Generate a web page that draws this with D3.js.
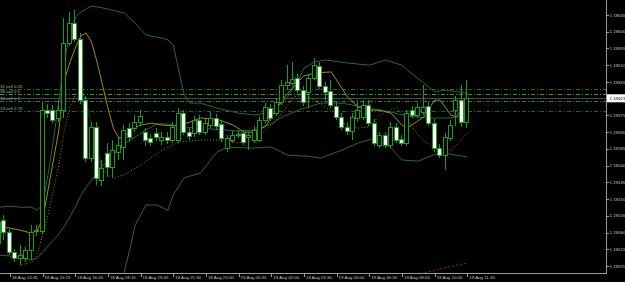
<!DOCTYPE html>
<html>
<head>
<meta charset="utf-8">
<script src="https://cdn.jsdelivr.net/npm/d3@7/dist/d3.min.js"></script>
<style>
  body { margin: 0; background: #000; }
  svg { display: block; }
</style>
</head>
<body>
<svg width="625" height="282"></svg>
<script>
// EURUSD M15 bars, 18-19 Aug
var opens = [
  1.19032, 1.19093, 1.19061, 1.19007, 1.18991, 1.18991, 1.19013, 1.19066, 1.19064, 1.19389,
  1.19389, 1.19368, 1.19389, 1.19570, 1.19623, 1.19580, 1.19416, 1.19260, 1.19344, 1.19201,
  1.19274, 1.19236, 1.19276, 1.19290, 1.19341, 1.19341, 1.19357, 1.19330, 1.19314, 1.19327,
  1.19309, 1.19317, 1.19309, 1.19309, 1.19381, 1.19330, 1.19327, 1.19363, 1.19330, 1.19349,
  1.19368, 1.19352, 1.19287, 1.19309, 1.19322, 1.19327, 1.19317, 1.19309, 1.19309, 1.19363,
  1.19395, 1.19381, 1.19411, 1.19457, 1.19462, 1.19476, 1.19443, 1.19438, 1.19476, 1.19508,
  1.19454, 1.19440, 1.19400, 1.19371, 1.19344, 1.19333, 1.19368, 1.19371, 1.19403, 1.19354,
  1.19295, 1.19322, 1.19295, 1.19344, 1.19311, 1.19301, 1.19389, 1.19376, 1.19384, 1.19400,
  1.19354, 1.19287, 1.19268, 1.19314, 1.19389, 1.19416, 1.19357
];
var highs = [
  1.19099, 1.19107, 1.19069, 1.19015, 1.19026, 1.19021, 1.19080, 1.19080, 1.19411, 1.19406,
  1.19403, 1.19416, 1.19637, 1.19653, 1.19658, 1.19597, 1.19427, 1.19357, 1.19357, 1.19255,
  1.19301, 1.19309, 1.19314, 1.19349, 1.19354, 1.19376, 1.19389, 1.19341, 1.19325, 1.19341,
  1.19330, 1.19330, 1.19357, 1.19395, 1.19389, 1.19341, 1.19373, 1.19376, 1.19365, 1.19384,
  1.19379, 1.19363, 1.19322, 1.19333, 1.19336, 1.19336, 1.19330, 1.19346, 1.19371, 1.19408,
  1.19406, 1.19422, 1.19470, 1.19510, 1.19519, 1.19486, 1.19454, 1.19486, 1.19529, 1.19519,
  1.19465, 1.19470, 1.19411, 1.19381, 1.19357, 1.19381, 1.19416, 1.19416, 1.19416, 1.19365,
  1.19330, 1.19330, 1.19357, 1.19354, 1.19322, 1.19389, 1.19400, 1.19408, 1.19457, 1.19411,
  1.19365, 1.19298, 1.19327, 1.19363, 1.19427, 1.19457, 1.19470
];
var lows = [
  1.19024, 1.19040, 1.18999, 1.18980, 1.18972, 1.18980, 1.18986, 1.19050, 1.19056, 1.19368,
  1.19354, 1.19357, 1.19368, 1.19562, 1.19572, 1.19406, 1.19250, 1.19250, 1.19188, 1.19185,
  1.19209, 1.19207, 1.19255, 1.19255, 1.19303, 1.19330, 1.19346, 1.19292, 1.19292, 1.19306,
  1.19295, 1.19298, 1.19301, 1.19301, 1.19322, 1.19309, 1.19317, 1.19322, 1.19322, 1.19341,
  1.19336, 1.19303, 1.19276, 1.19301, 1.19314, 1.19295, 1.19282, 1.19301, 1.19303, 1.19354,
  1.19360, 1.19373, 1.19403, 1.19443, 1.19454, 1.19435, 1.19400, 1.19395, 1.19470, 1.19446,
  1.19416, 1.19395, 1.19363, 1.19336, 1.19322, 1.19309, 1.19357, 1.19363, 1.19346, 1.19292,
  1.19287, 1.19287, 1.19287, 1.19301, 1.19292, 1.19292, 1.19368, 1.19368, 1.19376, 1.19346,
  1.19276, 1.19260, 1.19228, 1.19306, 1.19346, 1.19344, 1.19341
];
var closes = [
  1.19088, 1.19061, 1.19007, 1.18991, 1.18999, 1.19013, 1.19061, 1.19064, 1.19389, 1.19381,
  1.19363, 1.19389, 1.19570, 1.19623, 1.19580, 1.19416, 1.19260, 1.19344, 1.19207, 1.19233,
  1.19236, 1.19282, 1.19295, 1.19336, 1.19317, 1.19357, 1.19373, 1.19309, 1.19303, 1.19317,
  1.19317, 1.19309, 1.19344, 1.19381, 1.19330, 1.19319, 1.19363, 1.19330, 1.19354, 1.19368,
  1.19346, 1.19314, 1.19314, 1.19322, 1.19325, 1.19303, 1.19322, 1.19336, 1.19363, 1.19397,
  1.19368, 1.19411, 1.19457, 1.19465, 1.19473, 1.19443, 1.19411, 1.19476, 1.19510, 1.19454,
  1.19438, 1.19403, 1.19371, 1.19344, 1.19333, 1.19371, 1.19389, 1.19403, 1.19354, 1.19301,
  1.19322, 1.19295, 1.19344, 1.19309, 1.19301, 1.19381, 1.19376, 1.19397, 1.19397, 1.19354,
  1.19287, 1.19268, 1.19317, 1.19349, 1.19416, 1.19357, 1.19421
];

// indicator lines, [bar, price]
var maFast = [[0,1.19075],[2,1.19072],[4,1.19066],[6,1.19058],[7,1.19066],[8,1.19093],[9,1.19174],[10,1.19255],
  [11,1.19336],[12,1.19470],[13,1.19516],[14,1.19556],[15,1.19588],[16,1.19597],[17,1.19572],[18,1.19519],
  [19,1.19457],[20,1.19395],[21,1.19341],[22,1.19314],[23,1.19317],[24,1.19336],[26,1.19349],[28,1.19354],
  [30,1.19349],[33,1.19346],[37,1.19368],[40,1.19365],[43,1.19349],[45,1.19330],[47,1.19330],[49,1.19346],
  [50,1.19371],[52,1.19416],[54,1.19451],[56,1.19481],[58,1.19489],[61,1.19492],[62,1.19470],[64,1.19424],
  [66,1.19397],[68,1.19389],[70,1.19389],[72,1.19381],[74,1.19349],[75,1.19341],[78,1.19371],[80,1.19416],
  [81,1.19416],[83,1.19376],[84,1.19371],[86,1.19416]];
var maSlow = [[4,1.18972],[6,1.18980],[7,1.18999],[9,1.19107],[11,1.19242],[12,1.19336],[13,1.19395],[14,1.19430],
  [15,1.19438],[16,1.19416],[17,1.19349],[18,1.19282],[19,1.19228],[20,1.19215],[21,1.19207],[23,1.19215],
  [26,1.19242],[30,1.19282],[33,1.19303],[37,1.19309],[41,1.19309],[44,1.19301],[47,1.19309],[49,1.19336],
  [51,1.19363],[53,1.19403],[54,1.19424],[56,1.19430],[58,1.19416],[60,1.19395],[62,1.19381],[63,1.19354],
  [66,1.19341],[68,1.19344],[70,1.19376],[73,1.19397],[75,1.19363],[77,1.19322],[79,1.19295],[81,1.19282],
  [83,1.19282],[84,1.19295],[86,1.19327]];
var bbUpper = [[0,1.19128],[2,1.19131],[4,1.19128],[6,1.19128],[7,1.19120],[8,1.19134],[9,1.19215],[10,1.19309],
  [11,1.19416],[12,1.19524],[13,1.19591],[14,1.19637],[15,1.19653],[17,1.19669],[18,1.19667],[20,1.19661],
  [23,1.19650],[25,1.19623],[27,1.19591],[30,1.19583],[31,1.19578],[32,1.19564],[33,1.19497],[34,1.19430],
  [35,1.19408],[37,1.19408],[40,1.19395],[44,1.19381],[47,1.19376],[49,1.19381],[51,1.19397],[53,1.19424],
  [55,1.19470],[56,1.19502],[58,1.19519],[60,1.19524],[64,1.19516],[68,1.19510],[71,1.19524],[74,1.19510],
  [75,1.19497],[78,1.19462],[80,1.19438],[82,1.19443],[86,1.19435]];
var bbMiddle = [[0,1.18999],[2,1.18997],[4,1.18991],[6,1.18986],[7,1.18991],[8,1.19007],[9,1.19024],[10,1.19040],
  [11,1.19056],[12,1.19077],[13,1.19102],[14,1.19128],[15,1.19159],[16,1.19182],[17,1.19201],[18,1.19223],
  [19,1.19239],[20,1.19255],[21,1.19271],[22,1.19284],[23,1.19298],[24,1.19309],[25,1.19317],[27,1.19336],
  [29,1.19352],[31,1.19352],[34,1.19344],[37,1.19341],[41,1.19336],[44,1.19333],[47,1.19336],[50,1.19352],
  [52,1.19371],[55,1.19389],[59,1.19408],[63,1.19408],[67,1.19397],[72,1.19384],[75,1.19373],[79,1.19368],
  [83,1.19368],[86,1.19376]];
var bbLower = [[0,1.18859],[4,1.18854],[7,1.18851],[9,1.18824],[12,1.18690],[15,1.18650],[18,1.18717],[21,1.18851],
  [23,1.18954],[24,1.19013],[25,1.19080],[27,1.19134],[29,1.19134],[31,1.19120],[32,1.19161],[34,1.19207],
  [37,1.19220],[40,1.19276],[42,1.19290],[46,1.19287],[50,1.19290],[53,1.19268],[57,1.19265],[59,1.19260],
  [63,1.19282],[66,1.19301],[69,1.19314],[72,1.19287],[74,1.19255],[77,1.19252],[81,1.19276],[86,1.19263]];
var maLong = [[74,1.18932],[78,1.18951],[81,1.18962],[84,1.18972],[86,1.18978]];

// open order lines
var orderPrices = [1.19446, 1.19432, 1.19414, 1.19387];
var orderLabels = ["32 sell 0.45", "38 sell 0.5", "30 sell 0.1", "19 sell 0.70"];
var orderColors = ["#1a6a1a", "#2aa82a", "#228a22", "#1a6a1a"];
var bid = 1.19421;

// price and time ticks
var priceTicks = [1.19645, 1.19600, 1.19555, 1.19510, 1.19465, 1.19375, 1.19330, 1.19285,
  1.19240, 1.19195, 1.19150, 1.19105, 1.19060, 1.19015, 1.18970];
var timeBars = [2, 8, 14, 20, 26, 32, 38, 44, 50, 56, 62, 68, 74, 80, 86];
var timeLabels = ["18 Aug 13:45", "18 Aug 15:15", "18 Aug 16:45", "18 Aug 18:15",
  "18 Aug 19:45", "18 Aug 21:30", "18 Aug 23:00", "19 Aug 00:30", "19 Aug 02:00", "19 Aug 03:30",
  "19 Aug 05:00", "19 Aug 06:30", "19 Aug 08:00", "19 Aug 10:00", "19 Aug 11:30"];

var svg = d3.select("svg"),
    plotW = 606,
    plotH = 273;

var x = d3.scaleLinear().domain([0, 86]).range([-1, 467.3]);
var y = d3.scaleLinear().domain([1.18970, 1.19645]).range([266, 15]);

var green = "#1c9c1c",
    font = "'Liberation Sans', Arial, sans-serif";

svg.append("rect").attr("width", 625).attr("height", 282).attr("fill", "#000");

svg.append("clipPath").attr("id", "plot")
  .append("rect").attr("width", plotW).attr("height", plotH);

var plot = svg.append("g").attr("clip-path", "url(#plot)");

// order lines + bid line
plot.selectAll("line.order")
  .data(orderPrices)
  .enter().append("line")
    .attr("class", "order")
    .attr("x1", 0).attr("x2", plotW)
    .attr("y1", function(d) { return Math.round(y(d)) + 0.5; })
    .attr("y2", function(d) { return Math.round(y(d)) + 0.5; })
    .attr("stroke", function(d, i) { return orderColors[i]; })
    .attr("stroke-dasharray", "4,2,1,2");

plot.append("line")
  .attr("x1", 0).attr("x2", plotW)
  .attr("y1", Math.round(y(bid)) + 0.5).attr("y2", Math.round(y(bid)) + 0.5)
  .attr("stroke", "#4a4a4a");

plot.selectAll("text.order")
  .data(orderPrices)
  .enter().append("text")
    .attr("class", "order")
    .attr("x", 0)
    .attr("y", function(d) { return y(d) - 1; })
    .attr("fill", "#b0b0b0")
    .attr("font-family", font)
    .attr("font-size", 4.4)
    .text(function(d, i) { return orderLabels[i]; });

// indicators
var line = d3.line()
    .x(function(d) { return x(d[0]); })
    .y(function(d) { return y(d[1]); });

[bbUpper, bbMiddle, bbLower].forEach(function(s) {
  plot.append("path").attr("d", line(s))
    .attr("fill", "none").attr("stroke", "#22674a").attr("stroke-width", 1);
});

plot.append("path").attr("d", line(maLong))
  .attr("fill", "none").attr("stroke", "#8e1a8e").attr("stroke-dasharray", "2,2");

plot.append("path").attr("d", line(maSlow))
  .attr("fill", "none").attr("stroke", "#948600").attr("stroke-dasharray", "1,2");

plot.append("path").attr("d", line(maFast))
  .attr("fill", "none").attr("stroke", "#a09000").attr("stroke-width", 1);

// candles
var bars = plot.selectAll("g.bar")
  .data(d3.range(opens.length))
  .enter().append("g")
    .attr("class", "bar")
    .attr("shape-rendering", "crispEdges");

bars.append("line")
  .attr("x1", function(i) { return Math.round(x(i)) - 0.5; })
  .attr("x2", function(i) { return Math.round(x(i)) - 0.5; })
  .attr("y1", function(i) { return y(highs[i]); })
  .attr("y2", function(i) { return y(lows[i]); })
  .attr("stroke", green);

bars.append("rect")
  .attr("x", function(i) { return Math.round(x(i)) - 2.5; })
  .attr("width", 4)
  .attr("y", function(i) { return Math.round(y(Math.max(opens[i], closes[i]))) + 0.5; })
  .attr("height", function(i) { return Math.max(1, Math.round(Math.abs(y(opens[i]) - y(closes[i])))); })
  .attr("fill", function(i) { return closes[i] >= opens[i] ? "#000" : "#fff"; })
  .attr("stroke", green);

// axes
svg.append("line")
  .attr("x1", plotW + 0.5).attr("x2", plotW + 0.5)
  .attr("y1", 0).attr("y2", plotH + 1)
  .attr("stroke", "#9a9a9a");
svg.append("line")
  .attr("x1", 0).attr("x2", plotW + 1)
  .attr("y1", plotH + 0.5).attr("y2", plotH + 0.5)
  .attr("stroke", "#9a9a9a");

var yAxis = svg.append("g").attr("font-family", font).attr("font-size", 4.4);
yAxis.selectAll("line")
  .data(priceTicks)
  .enter().append("line")
    .attr("x1", plotW + 1).attr("x2", plotW + 3)
    .attr("y1", function(d) { return Math.round(y(d)) + 0.5; })
    .attr("y2", function(d) { return Math.round(y(d)) + 0.5; })
    .attr("stroke", "#9a9a9a");
yAxis.selectAll("text")
  .data(priceTicks)
  .enter().append("text")
    .attr("x", plotW + 3.5)
    .attr("y", function(d) { return y(d) + 1.6; })
    .attr("fill", "#c4c4c4")
    .text(function(d) { return d.toFixed(5); });

// current price box
svg.append("rect")
  .attr("x", plotW + 1).attr("y", y(bid) - 4)
  .attr("width", 625 - plotW).attr("height", 8)
  .attr("fill", "#fff");
svg.append("text")
  .attr("x", plotW + 3.5).attr("y", y(bid) + 1.6)
  .attr("fill", "#000")
  .attr("font-family", font).attr("font-size", 4.4)
  .text(bid.toFixed(5));

var xAxis = svg.append("g").attr("font-family", font).attr("font-size", 4.4);
xAxis.selectAll("line")
  .data(timeBars)
  .enter().append("line")
    .attr("x1", function(d) { return Math.round(x(d)) + 0.5; })
    .attr("x2", function(d) { return Math.round(x(d)) + 0.5; })
    .attr("y1", plotH + 1).attr("y2", plotH + 4)
    .attr("stroke", "#9a9a9a");
xAxis.selectAll("text")
  .data(timeBars)
  .enter().append("text")
    .attr("x", function(d) { return x(d) + 2; })
    .attr("y", plotH + 6)
    .attr("fill", "#c4c4c4")
    .text(function(d, i) { return timeLabels[i]; });
</script>
</body>
</html>
